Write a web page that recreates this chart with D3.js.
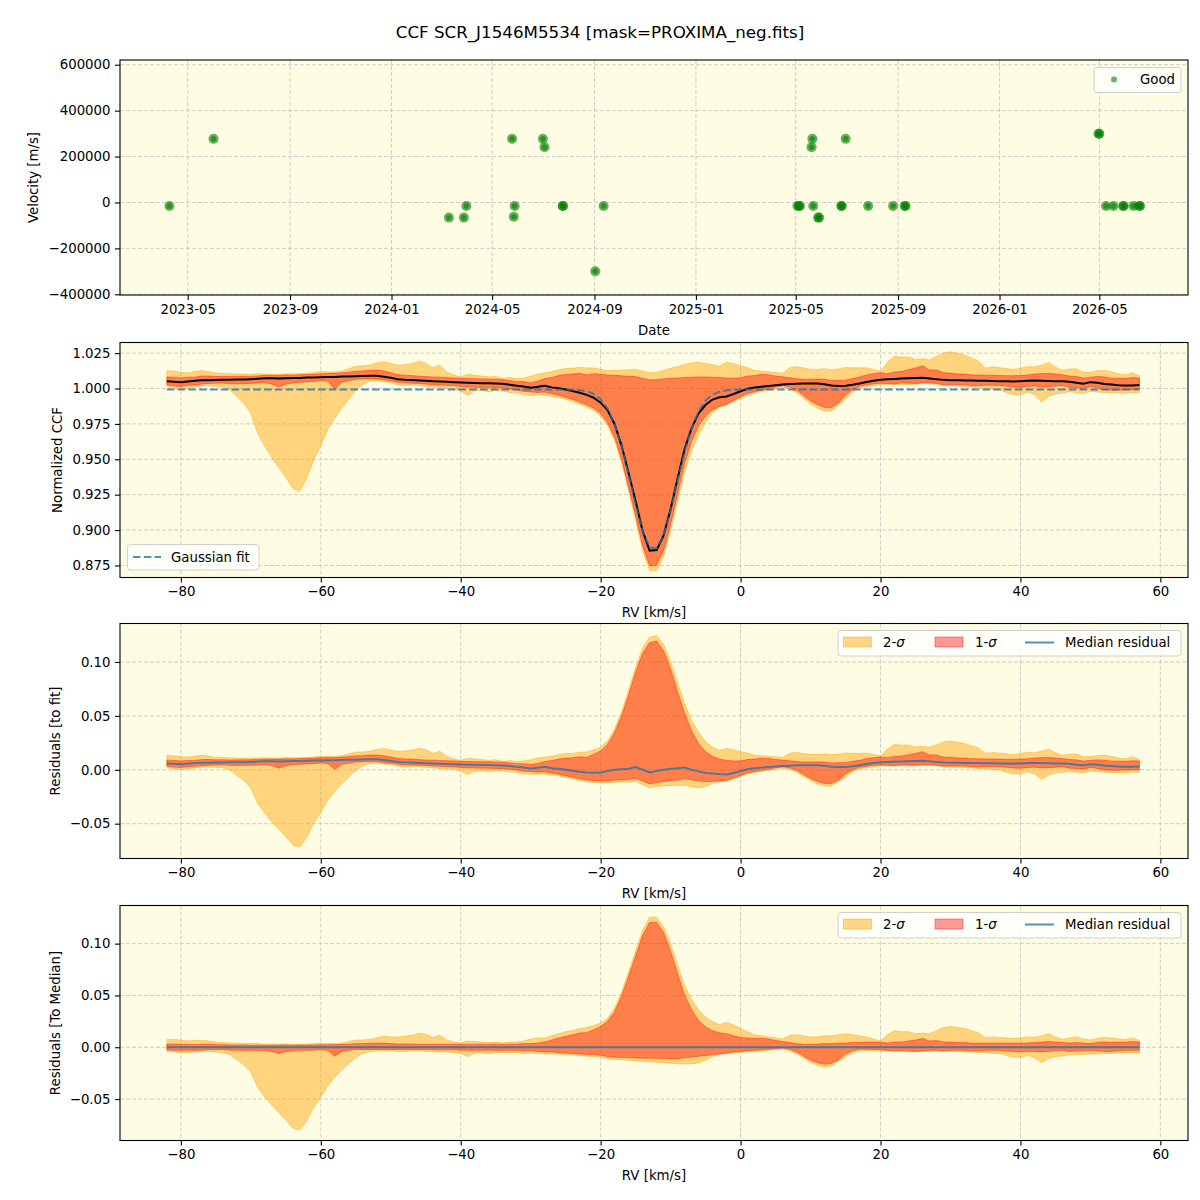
<!DOCTYPE html>
<html>
<head>
<meta charset="utf-8">
<script src="https://cdn.jsdelivr.net/npm/d3@7"></script>
<style>
body { margin: 0; background: #fff; }
</style>
</head>
<body>
<svg id="fig" width="1200" height="1200"></svg>
<script>
// ---- observations (top panel) ----
var obsDates = ["2023-04-09","2023-06-01","2024-03-10","2024-03-28","2024-03-31","2024-05-25","2024-05-27","2024-05-28",
  "2024-07-01","2024-07-03","2024-07-25","2024-07-25","2024-09-02","2024-09-12","2025-05-03","2025-05-05","2025-05-06",
  "2025-05-20","2025-05-21","2025-05-22","2025-05-28","2025-05-29","2025-06-25","2025-06-25","2025-06-30","2025-07-27",
  "2025-08-26","2025-09-09","2025-09-10","2026-04-30","2026-05-01","2026-05-09","2026-05-18","2026-05-30","2026-05-30",
  "2026-06-11","2026-06-18","2026-06-19"];
var obsVel = [-15000,277000,-66000,-66000,-15000,277000,-62000,-15000,
  277000,241000,-15000,-15000,-300000,-15000,-15000,-15000,-15000,
  241000,277000,-15000,-66000,-66000,-15000,-15000,277000,-15000,
  -15000,-15000,-15000,299000,299000,-15000,-15000,-15000,-15000,
  -15000,-15000,-15000];

// ---- CCF profile (RV grid in km/s) ----
var rv = [-82,-81,-80,-79,-78,-77,-76,-75,-74,-73,-72,-71,-70,-69,-68,-67,-66,-65,-64,-63,
  -62,-61,-60,-59,-58,-57,-56,-55,-54,-53,-52,-51,-50,-49,-48,-47,-46,-45,-44,-43,
  -42,-41,-40,-39,-38,-37,-36,-35,-34,-33,-32,-31,-30,-29,-28,-27,-26,-25,-24,-23,
  -22,-21,-20,-19,-18,-17,-16,-15,-14,-13,-12,-11,-10,-9,-8,-7,-6,-5,-4,-3,
  -2,-1,0,1,2,3,4,5,6,7,8,9,10,11,12,13,14,15,16,17,
  18,19,20,21,22,23,24,25,26,27,28,29,30,31,32,33,34,35,36,37,
  38,39,40,41,42,43,44,45,46,47,48,49,50,51,52,53,54,55,56,57];

var ccfMedian = [
  1.0052,1.0048,1.0045,1.0050,1.0055,1.0059,1.0058,1.0060,1.0061,1.0062,
  1.0063,1.0064,1.0066,1.0069,1.0073,1.0072,1.0070,1.0073,1.0074,1.0075,
  1.0077,1.0078,1.0080,1.0081,1.0082,1.0084,1.0085,1.0087,1.0089,1.0091,
  1.0090,1.0083,1.0076,1.0066,1.0062,1.0060,1.0057,1.0054,1.0052,1.0050,
  1.0047,1.0045,1.0042,1.0040,1.0039,1.0038,1.0037,1.0036,1.0033,1.0027,
  1.0020,1.0014,1.0006,1.0012,1.0020,1.0008,1.0002,0.9993,0.9983,0.9970,
  0.9955,0.9935,0.9900,0.9846,0.9748,0.9595,0.9401,0.9204,0.8993,0.8855,
  0.8859,0.8963,0.9148,0.9364,0.9573,0.9720,0.9825,0.9885,0.9922,0.9938,
  0.9944,0.9961,0.9981,0.9998,1.0007,1.0013,1.0018,1.0023,1.0028,1.0031,
  1.0034,1.0035,1.0036,1.0035,1.0030,1.0022,1.0018,1.0019,1.0026,1.0036,
  1.0046,1.0055,1.0062,1.0065,1.0067,1.0070,1.0073,1.0075,1.0076,1.0071,
  1.0066,1.0061,1.0059,1.0058,1.0057,1.0056,1.0055,1.0054,1.0053,1.0052,
  1.0051,1.0050,1.0052,1.0055,1.0057,1.0055,1.0053,1.0052,1.0052,1.0048,
  1.0040,1.0034,1.0045,1.0040,1.0032,1.0028,1.0023,1.0021,1.0022,1.0024];

var ccfFit = [
  0.9993,0.9993,0.9993,0.9993,0.9993,0.9993,0.9993,0.9993,0.9993,0.9993,
  0.9993,0.9993,0.9993,0.9993,0.9993,0.9993,0.9993,0.9993,0.9993,0.9993,
  0.9993,0.9993,0.9993,0.9993,0.9993,0.9993,0.9993,0.9993,0.9993,0.9993,
  0.9993,0.9993,0.9993,0.9993,0.9993,0.9993,0.9993,0.9993,0.9993,0.9993,
  0.9993,0.9993,0.9993,0.9993,0.9993,0.9993,0.9993,0.9993,0.9993,0.9993,
  0.9993,0.9993,0.9993,0.9993,0.9993,0.9993,0.9993,0.9993,0.9991,0.9988,
  0.9980,0.9962,0.9925,0.9858,0.9748,0.9590,0.9391,0.9179,0.8993,0.8880,
  0.8869,0.8963,0.9138,0.9349,0.9553,0.9720,0.9840,0.9915,0.9957,0.9978,
  0.9987,0.9991,0.9993,0.9993,0.9993,0.9993,0.9993,0.9993,0.9993,0.9993,
  0.9993,0.9993,0.9993,0.9993,0.9993,0.9993,0.9993,0.9993,0.9993,0.9993,
  0.9993,0.9993,0.9993,0.9993,0.9993,0.9993,0.9993,0.9993,0.9993,0.9993,
  0.9993,0.9993,0.9993,0.9993,0.9993,0.9993,0.9993,0.9993,0.9993,0.9993,
  0.9993,0.9993,0.9993,0.9993,0.9993,0.9993,0.9993,0.9993,0.9993,0.9993,
  0.9993,0.9993,0.9993,0.9993,0.9993,0.9993,0.9993,0.9993,0.9993,0.9993];

// percentile bands, relative to the median CCF
var sig2Lo = [
  -0.0040,-0.0045,-0.0050,-0.0050,-0.0045,-0.0040,-0.0040,-0.0045,-0.0050,-0.0070,
  -0.0120,-0.0170,-0.0240,-0.0390,-0.0480,-0.0560,-0.0630,-0.0700,-0.0780,-0.0800,
  -0.0710,-0.0580,-0.0480,-0.0370,-0.0290,-0.0220,-0.0160,-0.0100,-0.0060,-0.0040,
  -0.0035,-0.0035,-0.0035,-0.0040,-0.0040,-0.0035,-0.0035,-0.0040,-0.0040,-0.0045,
  -0.0045,-0.0050,-0.0060,-0.0090,-0.0055,-0.0050,-0.0060,-0.0050,-0.0050,-0.0055,
  -0.0050,-0.0060,-0.0055,-0.0060,-0.0065,-0.0065,-0.0065,-0.0070,-0.0075,-0.0080,
  -0.0085,-0.0090,-0.0095,-0.0110,-0.0115,-0.0120,-0.0125,-0.0132,-0.0138,-0.0142,
  -0.0145,-0.0150,-0.0155,-0.0160,-0.0162,-0.0160,-0.0152,-0.0125,-0.0090,-0.0070,
  -0.0060,-0.0055,-0.0050,-0.0045,-0.0040,-0.0035,-0.0030,-0.0025,-0.0020,-0.0035,
  -0.0062,-0.0105,-0.0145,-0.0175,-0.0190,-0.0180,-0.0135,-0.0095,-0.0050,-0.0035,
  -0.0035,-0.0035,-0.0035,-0.0035,-0.0040,-0.0040,-0.0045,-0.0045,-0.0040,-0.0040,
  -0.0035,-0.0040,-0.0040,-0.0040,-0.0045,-0.0045,-0.0050,-0.0050,-0.0060,-0.0060,
  -0.0080,-0.0095,-0.0100,-0.0080,-0.0100,-0.0150,-0.0110,-0.0090,-0.0085,-0.0070,
  -0.0070,-0.0070,-0.0065,-0.0065,-0.0060,-0.0060,-0.0055,-0.0055,-0.0050,-0.0055];

var sig1Lo = [
  -0.0025,-0.0030,-0.0030,-0.0028,-0.0030,-0.0028,-0.0022,-0.0022,-0.0022,-0.0028,
  -0.0030,-0.0030,-0.0030,-0.0030,-0.0032,-0.0040,-0.0060,-0.0042,-0.0035,-0.0030,
  -0.0030,-0.0028,-0.0022,-0.0030,-0.0087,-0.0040,-0.0030,-0.0022,-0.0022,-0.0022,
  -0.0022,-0.0022,-0.0022,-0.0022,-0.0022,-0.0022,-0.0022,-0.0022,-0.0025,-0.0025,
  -0.0025,-0.0025,-0.0028,-0.0030,-0.0030,-0.0030,-0.0030,-0.0030,-0.0030,-0.0030,
  -0.0030,-0.0035,-0.0030,-0.0040,-0.0045,-0.0045,-0.0050,-0.0055,-0.0060,-0.0065,
  -0.0070,-0.0072,-0.0077,-0.0090,-0.0094,-0.0098,-0.0100,-0.0103,-0.0105,-0.0107,
  -0.0107,-0.0108,-0.0110,-0.0110,-0.0102,-0.0095,-0.0087,-0.0080,-0.0072,-0.0063,
  -0.0055,-0.0045,-0.0040,-0.0033,-0.0030,-0.0025,-0.0020,-0.0012,-0.0008,-0.0020,
  -0.0045,-0.0085,-0.0125,-0.0150,-0.0165,-0.0155,-0.0120,-0.0065,-0.0035,-0.0020,
  -0.0020,-0.0022,-0.0025,-0.0030,-0.0035,-0.0030,-0.0035,-0.0040,-0.0035,-0.0030,
  -0.0030,-0.0035,-0.0030,-0.0030,-0.0030,-0.0035,-0.0035,-0.0030,-0.0030,-0.0030,
  -0.0035,-0.0040,-0.0045,-0.0040,-0.0040,-0.0045,-0.0040,-0.0035,-0.0030,-0.0040,
  -0.0035,-0.0035,-0.0030,-0.0035,-0.0040,-0.0040,-0.0035,-0.0030,-0.0030,-0.0030];

var sig1Hi = [
  0.0030,0.0032,0.0030,0.0030,0.0025,0.0030,0.0030,0.0025,0.0025,0.0022,
  0.0022,0.0022,0.0020,0.0020,0.0020,0.0020,0.0022,0.0022,0.0020,0.0022,
  0.0022,0.0022,0.0025,0.0025,0.0025,0.0028,0.0030,0.0035,0.0035,0.0038,
  0.0040,0.0040,0.0035,0.0032,0.0032,0.0032,0.0030,0.0030,0.0030,0.0030,
  0.0030,0.0030,0.0030,0.0030,0.0030,0.0030,0.0030,0.0030,0.0030,0.0030,
  0.0030,0.0035,0.0035,0.0040,0.0050,0.0070,0.0090,0.0106,0.0120,0.0138,
  0.0140,0.0170,0.0200,0.0250,0.0345,0.0495,0.0685,0.0880,0.1080,0.1205,
  0.1205,0.1105,0.0925,0.0710,0.0505,0.0360,0.0257,0.0197,0.0158,0.0140,
  0.0130,0.0112,0.0095,0.0090,0.0085,0.0087,0.0080,0.0065,0.0055,0.0045,
  0.0035,0.0030,0.0030,0.0032,0.0035,0.0035,0.0040,0.0040,0.0045,0.0045,
  0.0050,0.0050,0.0050,0.0040,0.0050,0.0050,0.0060,0.0070,0.0085,0.0060,
  0.0065,0.0050,0.0050,0.0045,0.0045,0.0040,0.0040,0.0040,0.0040,0.0040,
  0.0040,0.0040,0.0040,0.0040,0.0045,0.0050,0.0055,0.0050,0.0045,0.0040,
  0.0045,0.0040,0.0035,0.0045,0.0050,0.0045,0.0050,0.0050,0.0055,0.0050];

var sig2Hi = [
  0.0074,0.0075,0.0070,0.0060,0.0065,0.0068,0.0060,0.0050,0.0045,0.0042,
  0.0040,0.0038,0.0035,0.0035,0.0030,0.0030,0.0030,0.0032,0.0030,0.0030,
  0.0030,0.0035,0.0040,0.0035,0.0035,0.0040,0.0055,0.0070,0.0070,0.0075,
  0.0090,0.0106,0.0100,0.0098,0.0105,0.0115,0.0135,0.0125,0.0095,0.0115,
  0.0070,0.0050,0.0040,0.0060,0.0055,0.0050,0.0045,0.0050,0.0040,0.0050,
  0.0050,0.0060,0.0080,0.0090,0.0090,0.0110,0.0130,0.0150,0.0160,0.0180,
  0.0190,0.0210,0.0235,0.0280,0.0380,0.0535,0.0730,0.0930,0.1130,0.1255,
  0.1255,0.1165,0.0995,0.0790,0.0595,0.0460,0.0360,0.0290,0.0245,0.0220,
  0.0240,0.0215,0.0180,0.0150,0.0120,0.0110,0.0100,0.0090,0.0080,0.0115,
  0.0120,0.0110,0.0100,0.0100,0.0110,0.0110,0.0120,0.0130,0.0120,0.0110,
  0.0100,0.0080,0.0060,0.0120,0.0160,0.0150,0.0150,0.0130,0.0135,0.0130,
  0.0160,0.0190,0.0200,0.0190,0.0180,0.0160,0.0140,0.0090,0.0100,0.0095,
  0.0090,0.0085,0.0090,0.0100,0.0095,0.0110,0.0130,0.0100,0.0075,0.0090,
  0.0100,0.0080,0.0070,0.0085,0.0095,0.0090,0.0080,0.0075,0.0090,0.0065];

// ---- ticks ----
var dateTicks = ["2023-05-01","2023-09-01","2024-01-01","2024-05-01","2024-09-01","2025-01-01","2025-05-01","2025-09-01","2026-01-01","2026-05-01"];
var velTicks = [-400000,-200000,0,200000,400000,600000];
var rvTicks = [-80,-60,-40,-20,0,20,40,60];
var ccfTicks = [0.875,0.900,0.925,0.950,0.975,1.000,1.025];
var resTicks = [-0.05,0.00,0.05,0.10];

var svg = d3.select("#fig");
var FONT = "DejaVu Sans, sans-serif";
var BG = "#fffce4";
var L = 120, R = 1188, H = 235;
var ORANGE = "#ffa500", RED = "#ff0000", C0 = "#1f77b4";
var parseDate = d3.timeParse("%Y-%m-%d");

svg.append("rect").attr("width",1200).attr("height",1200).attr("fill","#fff");

svg.append("text").attr("x",600).attr("y",32).attr("dy","0.35em")
  .attr("text-anchor","middle").attr("font-family",FONT).attr("font-size",16.7)
  .text("CCF SCR_J1546M5534 [mask=PROXIMA_neg.fits]");

function makePanel(top, yDomain) {
  var g = svg.append("g").attr("transform","translate(0," + top + ")");
  g.append("rect").attr("x",L).attr("y",0).attr("width",R-L).attr("height",H).attr("fill",BG);
  var y = d3.scaleLinear().domain(yDomain).range([H,0]);
  return {g: g, y: y, top: top};
}

function drawGrid(p, x, xt, yt) {
  var gg = p.g.append("g");
  gg.selectAll("line.gx").data(xt).enter().append("line")
    .attr("x1", function(d){ return x(d); }).attr("x2", function(d){ return x(d); })
    .attr("y1",0).attr("y2",H);
  gg.selectAll("line.gy").data(yt).enter().append("line")
    .attr("x1",L).attr("x2",R)
    .attr("y1", function(d){ return p.y(d); }).attr("y2", function(d){ return p.y(d); });
  gg.selectAll("line").attr("stroke","#c8c8c8").attr("stroke-width",0.9)
    .attr("stroke-dasharray","4,2");
}

function drawAxes(p, x, xt, xfmt, yt, yfmt, xlabel, ylabel, ylabelX) {
  var ax = p.g.append("g").attr("transform","translate(0," + H + ")")
    .call(d3.axisBottom(x).tickValues(xt).tickFormat(xfmt).tickSize(5).tickPadding(4.5));
  var ay = p.g.append("g").attr("transform","translate(" + L + ",0)")
    .call(d3.axisLeft(p.y).tickValues(yt).tickFormat(yfmt).tickSize(5).tickPadding(4.5));
  [ax, ay].forEach(function(a) {
    a.select(".domain").remove();
    a.attr("font-family",FONT).attr("font-size",13.3);
    a.selectAll("line").attr("stroke","#000").attr("stroke-width",1.1);
    a.selectAll("text").attr("fill","#000");
  });
  p.g.append("rect").attr("x",L).attr("y",0).attr("width",R-L).attr("height",H)
    .attr("fill","none").attr("stroke","#000").attr("stroke-width",1.1);
  p.g.append("text").attr("x",(L+R)/2).attr("y",H+35).attr("dy","0.35em")
    .attr("text-anchor","middle").attr("font-family",FONT).attr("font-size",13.3).text(xlabel);
  p.g.append("text").attr("transform","translate(" + ylabelX + "," + (H/2) + ") rotate(-90)")
    .attr("dy","0.35em").attr("text-anchor","middle").attr("font-family",FONT)
    .attr("font-size",13.3).text(ylabel);
}

// ---------- panel 1: velocities ----------
var xTime = d3.scaleTime()
  .domain([new Date(2023,1,8,14), new Date(2026,7,15,14)]).range([L,R]);
var p1 = makePanel(60, [-403000, 620500]);
drawGrid(p1, xTime, dateTicks.map(parseDate), velTicks);

var obs = obsDates.map(function(d,i){ return {date: parseDate(d), v: obsVel[i]}; });
var pts = p1.g.append("g").selectAll("g").data(obs).enter().append("g")
  .attr("transform", function(d){ return "translate(" + xTime(d.date) + "," + p1.y(d.v) + ")"; });
pts.append("circle").attr("r",5).attr("fill","green").attr("fill-opacity",0.6);
pts.append("circle").attr("r",2.8).attr("fill","green").attr("fill-opacity",0.6);

drawAxes(p1, xTime, dateTicks.map(parseDate), d3.timeFormat("%Y-%m"), velTicks, d3.format("d"),
  "Date", "Velocity [m/s]", 33);

var lg1 = p1.g.append("g").attr("font-family",FONT).attr("font-size",13.3);
lg1.append("rect").attr("x",1094).attr("y",7.5).attr("width",87).attr("height",25).attr("rx",3)
  .attr("fill","#fff").attr("fill-opacity",0.8).attr("stroke","#d0d0d0");
lg1.append("circle").attr("cx",1114).attr("cy",19.5).attr("r",3).attr("fill","green").attr("fill-opacity",0.6);
lg1.append("text").attr("x",1140).attr("y",19.5).attr("dy","0.35em").text("Good");

// ---------- CCF panels ----------
var xRV = d3.scaleLinear().domain([-88.7, 63.95]).range([L,R]);
var rows = rv.map(function(v,i){
  return {rv: v, med: ccfMedian[i], fit: ccfFit[i],
          s2lo: sig2Lo[i], s1lo: sig1Lo[i], s1hi: sig1Hi[i], s2hi: sig2Hi[i]};
});

function drawBands(p, base) {
  var a2 = d3.area().x(function(d){ return xRV(d.rv); })
    .y0(function(d){ return p.y(base(d) + d.s2lo); })
    .y1(function(d){ return p.y(base(d) + d.s2hi); });
  var a1 = d3.area().x(function(d){ return xRV(d.rv); })
    .y0(function(d){ return p.y(base(d) + d.s1lo); })
    .y1(function(d){ return p.y(base(d) + d.s1hi); });
  p.g.append("path").datum(rows).attr("d",a2).attr("fill",ORANGE).attr("fill-opacity",0.45)
    .attr("stroke",ORANGE).attr("stroke-opacity",0.45).attr("stroke-width",1);
  p.g.append("path").datum(rows).attr("d",a1).attr("fill",RED).attr("fill-opacity",0.4)
    .attr("stroke",RED).attr("stroke-opacity",0.4).attr("stroke-width",1);
}

function lineOf(p, fn) {
  return d3.line().x(function(d){ return xRV(d.rv); }).y(function(d){ return p.y(fn(d)); });
}

// panel 2
var p2 = makePanel(342.5, [0.8665, 1.0325]);
drawGrid(p2, xRV, rvTicks, ccfTicks);
drawBands(p2, function(d){ return d.med; });
p2.g.append("path").datum(rows).attr("d", lineOf(p2, function(d){ return d.med; }))
  .attr("fill","none").attr("stroke","#000").attr("stroke-width",2);
p2.g.append("path").datum(rows).attr("d", lineOf(p2, function(d){ return d.fit; }))
  .attr("fill","none").attr("stroke",C0).attr("stroke-opacity",0.8).attr("stroke-width",2)
  .attr("stroke-dasharray","7.5,3.3");
drawAxes(p2, xRV, rvTicks, d3.format("d"), ccfTicks, d3.format(".3f"),
  "RV [km/s]", "Normalized CCF", 57);

var lg2 = p2.g.append("g").attr("font-family",FONT).attr("font-size",13.3);
lg2.append("rect").attr("x",127.5).attr("y",202).attr("width",131.5).attr("height",25.5).attr("rx",3)
  .attr("fill","#fff").attr("fill-opacity",0.8).attr("stroke","#d0d0d0");
lg2.append("line").attr("x1",133).attr("x2",161).attr("y1",214.5).attr("y2",214.5)
  .attr("stroke",C0).attr("stroke-opacity",0.8).attr("stroke-width",2).attr("stroke-dasharray","7.5,3.3");
lg2.append("text").attr("x",171).attr("y",214.5).attr("dy","0.35em").text("Gaussian fit");

function residualLegend(p) {
  var lg = p.g.append("g").attr("font-family",FONT).attr("font-size",13.3);
  lg.append("rect").attr("x",838).attr("y",7).attr("width",343).attr("height",25.5).attr("rx",3)
    .attr("fill","#fff").attr("fill-opacity",0.8).attr("stroke","#d0d0d0");
  lg.append("rect").attr("x",843.5).attr("y",13.5).attr("width",28).attr("height",10)
    .attr("fill",ORANGE).attr("fill-opacity",0.45).attr("stroke",ORANGE).attr("stroke-opacity",0.45);
  var t1 = lg.append("text").attr("x",883).attr("y",19).attr("dy","0.35em");
  t1.append("tspan").text("2-");
  t1.append("tspan").attr("font-style","italic").text("σ");
  lg.append("rect").attr("x",935).attr("y",13.5).attr("width",28).attr("height",10)
    .attr("fill",RED).attr("fill-opacity",0.4).attr("stroke",RED).attr("stroke-opacity",0.4);
  var t2 = lg.append("text").attr("x",975).attr("y",19).attr("dy","0.35em");
  t2.append("tspan").text("1-");
  t2.append("tspan").attr("font-style","italic").text("σ");
  lg.append("line").attr("x1",1025).attr("x2",1054).attr("y1",19).attr("y2",19)
    .attr("stroke",C0).attr("stroke-opacity",0.8).attr("stroke-width",2);
  lg.append("text").attr("x",1065).attr("y",19).attr("dy","0.35em").text("Median residual");
}

// panel 3: residuals to the fit
var p3 = makePanel(623.5, [-0.0823, 0.1357]);
drawGrid(p3, xRV, rvTicks, resTicks);
drawBands(p3, function(d){ return d.med - d.fit; });
p3.g.append("path").datum(rows).attr("d", lineOf(p3, function(d){ return d.med - d.fit; }))
  .attr("fill","none").attr("stroke",C0).attr("stroke-opacity",0.8).attr("stroke-width",2);
drawAxes(p3, xRV, rvTicks, d3.format("d"), resTicks, d3.format(".2f"),
  "RV [km/s]", "Residuals [to fit]", 55);
residualLegend(p3);

// panel 4: residuals to the median
var p4 = makePanel(905.5, [-0.090, 0.1368]);
drawGrid(p4, xRV, rvTicks, resTicks);
drawBands(p4, function(d){ return 0; });
p4.g.append("path").datum(rows).attr("d", lineOf(p4, function(d){ return 0; }))
  .attr("fill","none").attr("stroke",C0).attr("stroke-opacity",0.8).attr("stroke-width",2);
drawAxes(p4, xRV, rvTicks, d3.format("d"), resTicks, d3.format(".2f"),
  "RV [km/s]", "Residuals [To Median]", 55);
residualLegend(p4);
</script>
</body>
</html>
